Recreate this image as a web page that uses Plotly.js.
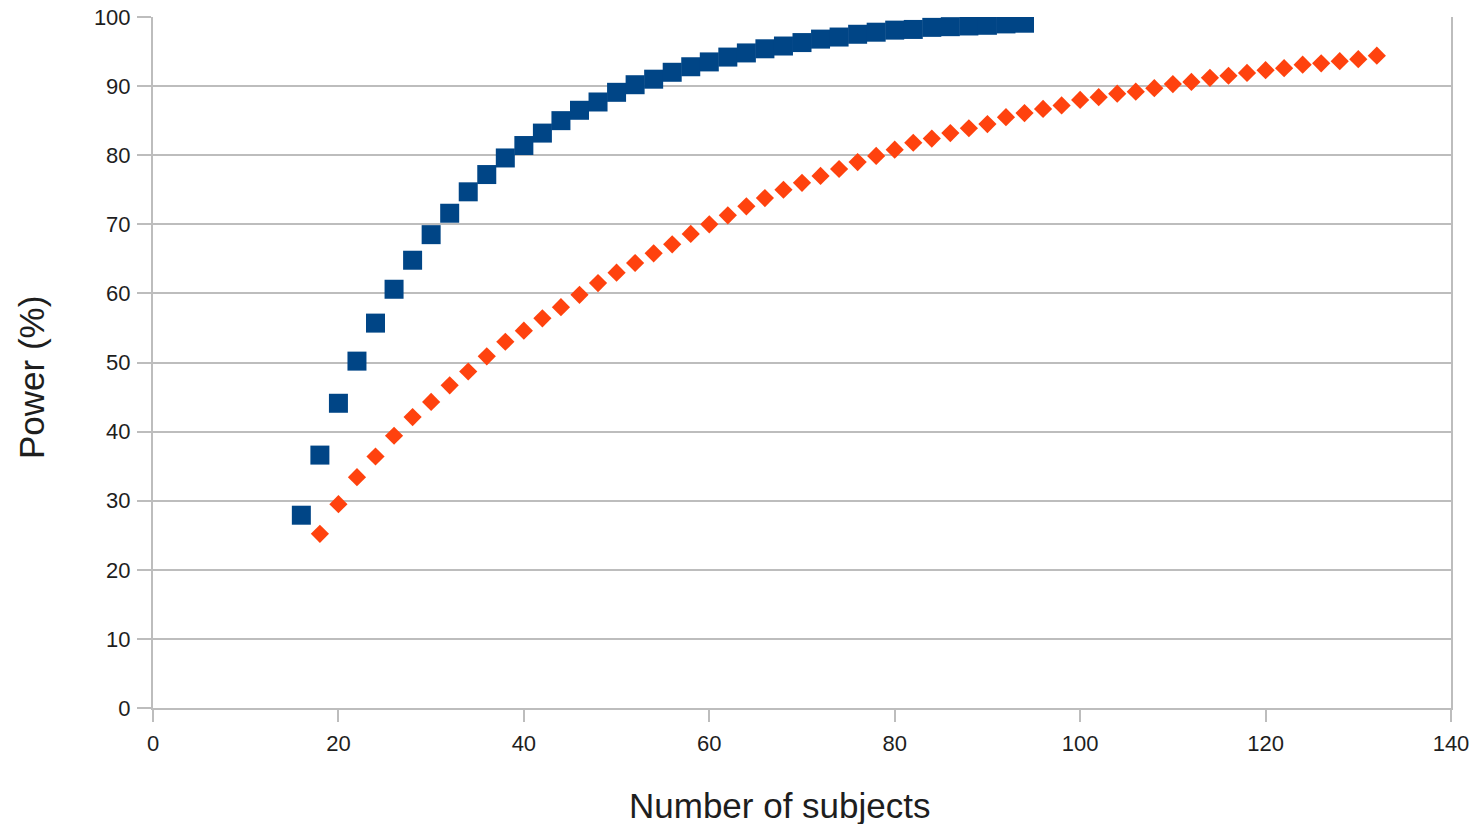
<!DOCTYPE html>
<html>
<head>
<meta charset="utf-8">
<script src="https://cdn.plot.ly/plotly-3.0.1.min.js"></script>
<style>html,body{margin:0;padding:0;background:#fff;}#chart{width:1474px;height:824px;}</style>
</head>
<body>
<div id="chart"></div>
<script>
// Series 1 (blue squares)
const subjectsA = [16,18,20,22,24,26,28,30,32,34,36,38,40,42,44,46,48,50,52,54,56,58,60,62,64,66,68,70,72,74,76,78,80,82,84,86,88,90,92,94];
const powerA = [27.9,36.6,44.1,50.2,55.7,60.6,64.8,68.5,71.6,74.7,77.2,79.6,81.4,83.2,85.0,86.5,87.7,89.1,90.2,91.0,92.0,92.8,93.5,94.2,94.8,95.4,95.8,96.3,96.8,97.1,97.5,97.8,98.1,98.2,98.5,98.6,98.7,98.8,99.0,99.1];

// Series 2 (orange diamonds)
const subjectsB = [18,20,22,24,26,28,30,32,34,36,38,40,42,44,46,48,50,52,54,56,58,60,62,64,66,68,70,72,74,76,78,80,82,84,86,88,90,92,94,96,98,100,102,104,106,108,110,112,114,116,118,120,122,124,126,128,130,132];
const powerB = [25.2,29.5,33.4,36.4,39.4,42.1,44.3,46.7,48.7,50.9,53.0,54.6,56.4,58.0,59.8,61.5,63.0,64.4,65.8,67.1,68.6,70.0,71.3,72.6,73.8,75.0,76.0,77.0,78.0,79.0,79.9,80.8,81.8,82.4,83.2,83.9,84.5,85.5,86.1,86.7,87.2,88.0,88.4,88.9,89.2,89.7,90.3,90.6,91.2,91.5,91.9,92.3,92.6,93.1,93.3,93.6,93.9,94.4];

const xTicks = [0,20,40,60,80,100,120,140];
const yTicks = [0,10,20,30,40,50,60,70,80,90,100];
const xTitle = 'Number of subjects';
const yTitle = 'Power (%)';

const gridCol = '#bdbdbd';
const textCol = '#1e1e1e';
const fontFam = 'Liberation Sans, Arial, sans-serif';

const traces = [
  {x: subjectsA, y: powerA, type: 'scatter', mode: 'markers', name: 'A',
   marker: {symbol: 'square', size: 19, color: '#004586'}},
  {x: subjectsB, y: powerB, type: 'scatter', mode: 'markers', name: 'B',
   marker: {symbol: 'diamond', size: 14, color: '#ff420e'}}
];

const layout = {
  width: 1474, height: 824,
  margin: {l: 153, r: 23, t: 17, b: 116},
  paper_bgcolor: '#ffffff', plot_bgcolor: '#ffffff',
  showlegend: false,
  font: {family: fontFam, color: textCol, size: 22},
  xaxis: {
    range: [0, 140], tickvals: xTicks, ticktext: xTicks.map(String),
    showgrid: false, zeroline: false,
    showline: true, linecolor: gridCol, linewidth: 2,
    ticks: 'outside', ticklen: 12, tickwidth: 2, tickcolor: gridCol,
    ticklabelstandoff: 3,
    tickfont: {size: 22, color: textCol}
  },
  yaxis: {
    range: [0, 100], tickvals: yTicks, ticktext: yTicks.map(String),
    showgrid: true, gridcolor: gridCol, gridwidth: 2,
    zeroline: false,
    showline: true, linecolor: gridCol, linewidth: 2, mirror: true,
    ticks: 'outside', ticklen: 14, tickwidth: 2, tickcolor: gridCol,
    ticklabelstandoff: 2,
    tickfont: {size: 22, color: textCol}
  },
  annotations: [
    {text: xTitle, xref: 'paper', yref: 'paper', x: 0.483, y: -0.1404,
     xanchor: 'center', yanchor: 'middle', showarrow: false,
     font: {size: 35, color: textCol, family: fontFam}},
    {text: yTitle, xref: 'paper', yref: 'paper', x: -0.0932, y: 0.4776,
     xanchor: 'center', yanchor: 'middle', showarrow: false, textangle: -90,
     font: {size: 35, color: textCol, family: fontFam}}
  ]
};

Plotly.newPlot('chart', traces, layout, {displayModeBar: false, staticPlot: true});
</script>
</body>
</html>
